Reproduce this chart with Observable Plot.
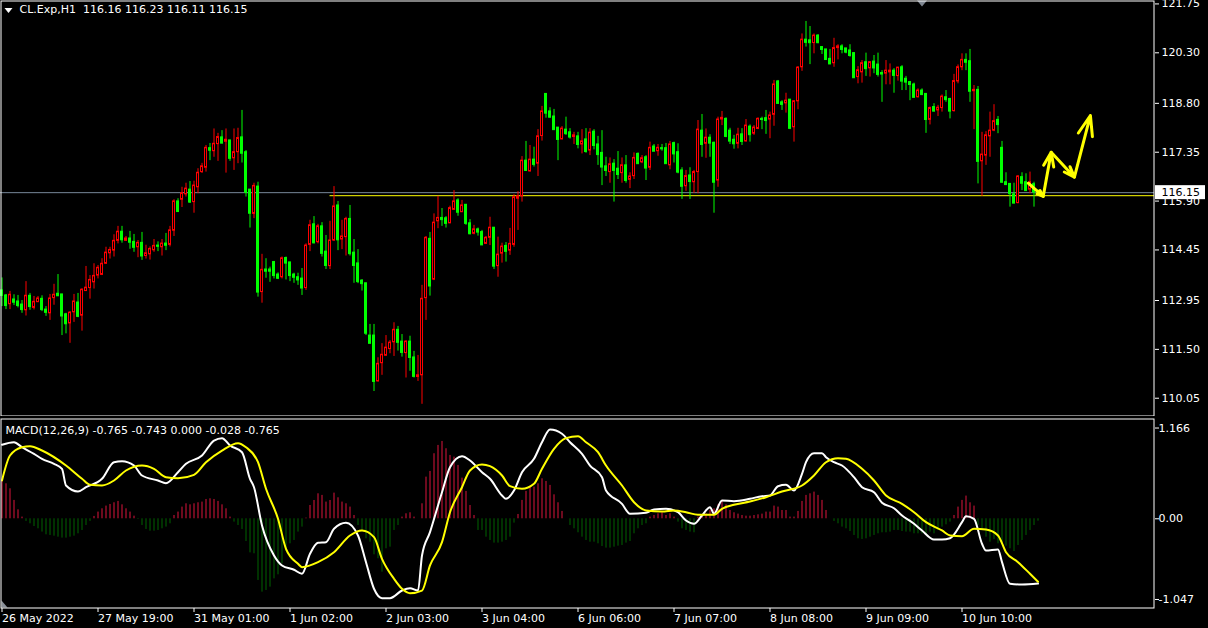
<!DOCTYPE html>
<html><head><meta charset="utf-8">
<script src="https://cdn.jsdelivr.net/npm/d3@7"></script>
<script src="https://cdn.jsdelivr.net/npm/@observablehq/plot@0.6"></script>
<style>
html,body{margin:0;padding:0;background:#000;}
#wrap{position:relative;width:1208px;height:628px;background:#000;overflow:hidden;}
#main{position:absolute;left:0;top:0;}
#macd{position:absolute;left:0;top:416px;}
svg{display:block;}
</style></head><body><div id="wrap"><div id="main"></div><div id="macd"></div></div>
<script>
// ---------------- data ----------------
const symbol = "CL.Exp", timeframe = "H1";
const opens = [113.25,113.10,112.84,112.98,112.92,112.83,112.66,113.09,112.73,112.90,113.00,112.68,112.57,113.02,113.15,113.13,112.54,112.27,112.60,112.89,112.50,113.23,113.32,113.49,113.69,113.71,114.04,114.35,114.43,114.72,114.99,114.72,114.79,114.69,114.53,114.66,114.27,114.32,114.44,114.58,114.53,114.64,114.60,115.02,115.89,115.94,116.10,116.24,115.87,116.31,116.76,116.89,117.47,117.38,117.59,117.79,117.66,117.70,117.17,117.35,117.79,117.35,116.24,115.52,116.33,113.20,113.87,113.87,114.09,113.72,113.64,114.21,114.08,113.72,113.64,113.60,113.32,114.60,115.21,114.68,115.15,114.40,113.97,114.73,115.77,114.76,114.83,115.37,114.37,114.05,113.54,113.46,111.91,111.91,110.55,111.09,111.31,111.51,111.71,112.08,111.73,111.39,111.73,111.26,110.68,110.73,113.02,114.78,113.57,115.30,115.40,115.39,115.24,115.64,115.92,115.57,115.79,115.24,114.93,115.06,114.98,114.63,114.81,115.11,113.97,114.34,114.57,114.43,114.60,115.97,116.04,117.10,116.78,117.13,117.01,117.83,119.08,118.56,118.41,118.08,117.73,118.02,117.94,117.80,117.82,117.58,117.73,117.40,117.96,117.58,117.33,116.93,116.76,117.01,116.86,116.73,116.96,116.53,116.64,117.30,117.05,117.20,116.89,117.52,117.38,117.47,117.47,116.96,117.62,117.35,116.81,116.34,116.66,116.46,116.76,117.99,117.60,117.78,117.63,116.51,118.32,118.34,117.99,117.72,117.60,117.88,117.67,118.11,117.90,118.04,118.34,118.36,118.32,118.46,119.45,118.83,118.80,118.91,118.09,118.86,119.87,120.69,120.67,120.59,120.81,120.47,120.40,120.12,119.99,120.44,120.49,120.43,120.37,120.29,119.58,119.72,120.02,119.84,120.04,119.95,119.70,119.68,119.72,119.77,119.61,119.87,119.53,119.43,119.36,118.98,119.18,119.08,118.31,118.69,118.59,118.66,118.98,118.93,118.57,119.45,119.87,120.09,120.05,119.16,119.20,117.08,117.25,117.82,117.99,118.31,117.48,116.46,116.41,116.10,115.84,116.61,116.46,116.24,116.40,116.16];
const highs = [113.62,113.13,113.22,113.12,113.10,112.95,113.51,113.16,113.07,113.07,113.09,112.77,113.13,113.43,113.72,113.13,112.57,112.62,113.13,113.16,113.30,113.96,113.69,114.04,113.99,114.19,114.53,114.53,114.90,115.15,115.15,114.85,115.00,114.91,114.73,114.97,114.59,114.54,114.76,114.69,114.76,114.94,115.15,115.94,115.97,116.31,116.43,116.48,116.49,116.86,117.02,117.55,117.61,118.04,117.91,117.99,118.04,117.70,118.04,118.06,118.59,117.40,116.24,116.43,116.46,114.32,114.19,113.94,114.11,113.77,114.24,114.24,114.08,113.76,113.76,113.90,114.63,115.33,115.44,115.21,115.26,114.88,115.30,116.33,115.89,115.33,115.42,115.77,114.76,114.46,113.57,113.46,112.24,112.24,111.25,111.67,111.91,111.76,112.29,112.18,111.94,111.76,111.89,111.44,111.32,113.40,114.85,114.97,115.52,116.04,115.68,115.44,115.75,116.21,115.97,115.92,115.80,115.35,115.18,115.10,115.03,114.85,115.42,115.11,114.83,114.65,114.67,115.09,116.09,116.18,117.22,117.67,117.55,117.50,118.02,118.71,119.08,118.67,118.62,118.08,118.11,118.39,118.05,117.94,117.94,118.02,118.05,118.05,118.02,117.82,117.99,117.20,117.18,117.13,117.37,117.18,117.25,116.74,117.33,117.33,117.25,117.25,117.65,117.58,117.58,117.58,117.61,117.67,117.65,117.60,116.89,116.81,116.89,116.81,118.29,118.47,118.04,117.87,117.65,118.39,118.56,118.37,118.06,117.85,118.06,118.05,118.32,118.16,118.14,118.37,118.39,118.59,118.54,119.48,119.48,118.88,119.10,118.91,118.88,119.89,120.86,121.23,121.08,120.86,120.84,120.47,120.40,120.40,120.73,120.54,120.54,120.43,120.54,120.30,119.89,120.07,120.29,120.03,120.22,120.29,119.77,120.07,119.97,119.83,119.87,119.92,119.60,119.45,119.40,119.23,119.23,119.08,118.69,118.79,118.74,119.05,119.18,118.95,119.66,119.94,120.27,120.27,120.40,119.33,119.30,117.94,117.96,118.54,118.76,118.41,117.67,116.74,116.42,116.43,116.66,116.74,116.71,116.76,116.46,116.23];
const lows = [112.77,112.68,112.68,112.80,112.73,112.57,112.49,112.66,112.67,112.89,112.62,112.48,112.36,112.81,113.07,111.91,111.96,111.68,112.30,112.44,112.04,113.22,112.99,113.29,113.59,113.69,114.02,114.18,114.24,114.63,114.65,114.71,114.47,114.38,114.22,114.14,114.18,114.15,114.38,114.40,114.27,114.43,114.54,114.85,115.56,115.71,116.02,115.83,115.54,116.12,116.72,116.76,117.10,117.20,117.08,117.60,116.73,117.08,116.81,117.01,117.03,116.02,115.10,115.38,113.05,112.87,113.61,113.49,113.59,113.57,113.59,113.56,113.51,113.46,113.40,113.10,113.25,114.40,114.63,114.63,114.24,113.87,113.87,114.70,114.43,114.46,114.27,114.27,113.46,113.45,113.23,111.91,111.68,110.25,110.53,110.73,111.31,111.37,111.29,111.45,111.27,110.65,110.85,110.65,110.55,109.87,112.36,113.08,113.54,115.08,115.15,115.10,115.23,115.62,115.45,115.56,115.18,114.90,114.90,114.86,114.58,114.61,114.58,113.87,113.64,114.06,114.09,114.29,114.53,115.03,115.87,116.78,116.76,116.91,116.63,117.68,118.36,118.36,118.02,117.10,117.72,117.85,117.74,117.58,117.45,117.30,117.32,117.25,117.42,116.96,116.36,116.63,116.43,115.87,116.54,116.43,116.43,116.27,116.54,116.99,117.01,116.51,116.81,117.38,117.23,117.38,117.01,116.83,117.03,116.71,115.95,116.19,115.95,116.13,116.12,117.20,117.17,117.20,115.54,116.31,118.14,117.78,117.58,117.44,117.45,117.55,117.65,117.65,117.85,118.02,118.02,117.88,117.75,118.12,118.77,118.59,118.51,118.02,117.65,118.61,119.75,120.47,119.95,120.27,120.57,120.25,120.10,119.95,119.87,120.09,120.27,120.27,120.17,119.55,119.38,119.40,119.60,119.58,119.68,119.58,118.83,119.35,119.35,119.10,119.46,119.18,119.18,118.88,118.96,118.96,119.03,117.91,118.16,118.54,118.41,118.54,118.83,118.34,118.54,119.38,119.77,119.77,118.83,118.02,116.41,116.04,116.96,117.20,117.96,117.90,116.43,116.36,115.72,115.82,115.82,116.21,116.19,116.12,115.72,116.11];
const closes = [113.10,112.80,113.12,112.90,112.80,112.68,113.09,112.77,112.91,113.01,112.68,112.60,113.01,113.12,113.09,112.49,112.26,112.59,112.92,112.48,113.27,113.33,113.56,113.68,113.92,114.04,114.37,114.45,114.72,114.99,114.75,114.79,114.68,114.53,114.66,114.27,114.35,114.48,114.57,114.56,114.64,114.59,115.03,115.89,115.59,116.13,116.27,115.87,116.36,116.74,116.93,117.48,117.41,117.60,117.80,117.62,117.72,117.17,117.35,117.77,117.32,116.16,115.54,116.35,113.20,113.86,113.82,113.82,113.69,113.61,114.20,114.06,113.69,113.64,113.56,113.32,114.58,115.18,114.66,115.15,114.35,113.99,114.73,115.74,114.75,114.85,115.37,114.34,113.99,113.51,113.45,111.98,111.68,110.55,111.07,111.34,111.55,111.70,112.08,111.71,111.41,111.73,111.26,110.70,110.73,113.00,114.81,113.38,115.26,115.40,115.35,115.24,115.69,115.89,115.57,115.77,115.24,114.93,115.06,114.98,114.60,114.81,115.11,113.97,114.31,114.55,114.41,114.63,116.01,116.04,117.10,116.81,117.13,116.99,117.82,118.56,118.51,118.39,118.02,117.73,118.05,117.90,117.80,117.85,117.58,117.67,117.37,117.93,117.55,117.28,116.91,116.81,116.99,116.81,116.69,116.96,116.51,116.63,117.18,117.01,117.17,116.88,117.48,117.38,117.48,117.45,117.01,117.58,117.30,116.76,116.34,116.64,116.48,116.76,118.02,117.58,117.78,117.62,116.46,118.32,118.37,117.82,117.68,117.60,117.87,117.67,118.14,117.87,118.08,118.34,118.32,118.29,118.44,119.36,118.80,118.77,118.88,118.06,118.86,119.86,120.69,120.61,120.60,120.81,120.60,120.40,120.10,119.97,120.44,120.49,120.40,120.32,120.22,119.56,119.78,119.99,119.83,120.02,119.85,119.66,119.67,119.77,119.77,119.63,119.86,119.46,119.43,119.36,118.98,119.18,119.06,118.32,118.66,118.57,118.67,119.00,118.91,118.57,119.46,119.87,120.09,120.02,119.16,119.20,117.08,117.28,117.85,117.99,118.27,118.17,116.46,116.39,116.12,115.84,116.63,116.43,116.21,116.46,116.17,116.15];

const priceTicks = [121.75, 120.30, 118.80, 117.35, 115.90, 114.45, 112.95, 111.50, 110.05];
const timeTickBars = [0, 24, 48, 72, 96, 120, 144, 168, 192, 216, 240];
const timeTickLabels = ["26 May 2022", "27 May 19:00", "31 May 01:00", "1 Jun 02:00", "2 Jun 03:00", "3 Jun 04:00", "6 Jun 06:00", "7 Jun 07:00", "8 Jun 08:00", "9 Jun 09:00", "10 Jun 10:00"];

const levelPrice = 116.06;      // horizontal yellow line
const levelStartBar = 82;
const shiftMarkerBar = 230;

// yellow zig-zag arrows (bar index, price)
const arrowBars = [256.55, 260.3, 262.3, 268.1, 272.1];
const arrowPrices = [116.43, 116.04, 117.35, 116.61, 118.44];

// MACD(12,26,9)
const macdTitle = "MACD(12,26,9) -0.765 -0.743 0.000 -0.028 -0.765";
const macdTickValues = [1.166, 0, -1.047];
const macdTickLabels = ["1.166", "0.00", "-1.047"];
const macdBars = [0,3,5,8,10,13,15,16,19,21,25,28,30,33,35,39,41,44,46,50,53,55,57,60,62,63,65,68,70,73,75,77,79,81,83,86,89,91,93,95,97,100,102,104,105,107,110,112,115,117,120,122,125,126,128,130,133,135,137,140,142,145,147,150,151,155,157,161,163,166,169,171,173,175,177,178,180,183,187,190,192,194,196,198,200,201,203,205,206,208,210,213,215,218,220,223,225,228,230,233,235,237,240,241,243,245,246,249,250,252,255,259];
const macdValues = [0.874,0.904,0.845,0.767,0.708,0.649,0.590,0.393,0.322,0.373,0.472,0.668,0.680,0.629,0.511,0.452,0.420,0.550,0.649,0.747,0.924,0.952,0.865,0.786,0.472,0.373,-0.079,-0.433,-0.551,-0.602,-0.649,-0.413,-0.283,-0.276,-0.118,-0.047,-0.197,-0.512,-0.826,-0.937,-0.937,-0.847,-0.820,-0.847,-0.433,-0.158,0.314,0.609,0.739,0.688,0.550,0.472,0.275,0.236,0.334,0.550,0.708,0.904,1.054,1.004,0.904,0.767,0.629,0.491,0.334,0.177,0.059,0.071,0.110,0.118,0.078,-0.020,-0.059,0.039,0.137,0.059,0.216,0.208,0.236,0.267,0.275,0.385,0.401,0.334,0.531,0.668,0.774,0.774,0.727,0.668,0.629,0.491,0.373,0.314,0.189,0.125,0.039,-0.059,-0.138,-0.244,-0.244,-0.229,-0.040,0.031,0,-0.295,-0.374,-0.362,-0.512,-0.767,-0.776,-0.765];
const signalBars = [0,2,5,7,10,16,20,22,25,28,31,35,38,41,44,48,51,55,59,61,64,66,69,71,74,75,79,83,87,90,93,95,98,100,102,105,107,110,112,115,117,120,122,125,127,130,133,135,138,141,144,146,149,151,155,158,161,165,168,171,174,178,180,183,187,191,195,200,203,206,209,211,215,218,221,225,228,231,235,237,240,243,246,249,251,254,257,259];
const signalValues = [0.452,0.747,0.845,0.857,0.806,0.629,0.472,0.402,0.393,0.452,0.570,0.629,0.590,0.491,0.479,0.519,0.668,0.806,0.893,0.845,0.668,0.354,0,-0.354,-0.531,-0.571,-0.512,-0.394,-0.197,-0.138,-0.217,-0.472,-0.708,-0.826,-0.878,-0.847,-0.551,-0.276,0.078,0.373,0.570,0.641,0.621,0.511,0.385,0.354,0.413,0.590,0.826,0.952,0.975,0.904,0.786,0.629,0.393,0.196,0.098,0.086,0.098,0.078,0.047,0.047,0.118,0.165,0.204,0.255,0.322,0.393,0.511,0.668,0.715,0.708,0.590,0.452,0.275,0.177,0.078,-0.040,-0.138,-0.197,-0.205,-0.118,-0.126,-0.197,-0.394,-0.512,-0.649,-0.743];
const histValues = [0.453,0.413,0.354,0.217,0.106,0.02,-0.031,-0.059,-0.091,-0.118,
-0.157,-0.189,-0.197,-0.205,-0.217,-0.228,-0.228,-0.217,-0.205,-0.177,
-0.138,-0.079,-0.031,0.028,0.079,0.118,0.150,0.169,0.189,0.205,
0.165,0.118,0.079,0.031,-0.008,-0.079,-0.126,-0.146,-0.146,-0.138,
-0.118,-0.098,-0.059,0.039,0.079,0.138,0.177,0.165,0.177,0.189,
0.197,0.228,0.236,0.228,0.205,0.165,0.118,0.020,-0.039,-0.079,
-0.126,-0.268,-0.402,-0.413,-0.728,-0.866,-0.846,-0.807,-0.709,-0.661,
-0.531,-0.386,-0.295,-0.256,-0.157,-0.098,0.008,0.157,0.216,0.295,
0.276,0.197,0.216,0.303,0.248,0.197,0.177,0.138,0.039,-0.079,
-0.138,-0.236,-0.276,-0.425,-0.472,-0.630,-0.354,-0.335,-0.138,-0.079,
0.02,0.059,0.071,0.02,0,0.177,0.492,0.559,0.768,0.866,
0.913,0.827,0.748,0.728,0.630,0.480,0.323,0.157,0.039,-0.138,
-0.138,-0.217,-0.256,-0.287,-0.287,-0.276,-0.256,-0.217,-0.051,0.051,
0.217,0.323,0.374,0.374,0.413,0.472,0.441,0.394,0.283,0.189,
0.087,0,-0.079,-0.118,-0.165,-0.217,-0.256,-0.276,-0.276,-0.295,
-0.327,-0.346,-0.346,-0.335,-0.323,-0.315,-0.287,-0.268,-0.177,-0.118,
-0.079,-0.059,0.020,0.039,0.059,0.071,0.039,0.059,0.020,-0.039,
-0.118,-0.138,-0.157,-0.165,0.020,0.039,0.059,0.098,0.118,0.165,
0.217,0.165,0.098,0.071,0.055,0.039,0.031,0.031,0.039,0.047,
0.055,0.079,0.079,0.150,0.138,0.098,0.098,0.020,0.020,0.087,
0.205,0.276,0.295,0.315,0.276,0.217,0.098,0.0,-0.031,-0.059,
-0.098,-0.118,-0.150,-0.197,-0.236,-0.244,-0.236,-0.217,-0.197,-0.177,
-0.165,-0.165,-0.157,-0.138,-0.138,-0.150,-0.157,-0.157,-0.177,-0.177,
-0.177,-0.189,-0.157,-0.177,-0.138,-0.098,-0.071,-0.039,0.039,0.138,
0.217,0.268,0.189,0.150,-0.079,-0.138,-0.217,-0.276,-0.244,-0.295,
-0.276,-0.323,-0.354,-0.386,-0.315,-0.256,-0.197,-0.138,-0.079,-0.028];

// ---------------- styling ----------------
const BULL = "#ff0000", BEAR = "#00ff00", BID = "#778899", YEL = "#ffff00";
const HIST_UP = "#dc143c", HIST_DN = "#006400";
const FONT = "DejaVu Sans";
const W = 1208, MR = 54;
const xDomain = [-0.375, 288.125];           // 4 px per bar
const pxPerBar = (W - MR) / (xDomain[1] - xDomain[0]);

const candles = opens.map((o, i) => ({i, o, h: highs[i], l: lows[i], c: closes[i], up: closes[i] > o}));
const last = candles[candles.length - 1];
const fmt2 = v => v.toFixed(2);

const yMain = [109.508, 121.852];
const pxPerPrice = 416 / (yMain[1] - yMain[0]);

const arrows = arrowBars.slice(1).map((b, k) => ({x1: arrowBars[k], y1: arrowPrices[k], x2: b, y2: arrowPrices[k + 1]}));

const downTri = {draw(ctx, size) { const w = 5, h = 6; ctx.moveTo(-w, -h/2); ctx.lineTo(w, -h/2); ctx.lineTo(0, h/2); ctx.closePath(); }};
const titleTri = {draw(ctx, size) { const w = 4, h = 5; ctx.moveTo(-w, -h/2); ctx.lineTo(w, -h/2); ctx.lineTo(0, h/2); ctx.closePath(); }};
const cornerTri = {draw(ctx, size) { ctx.moveTo(0, -7); ctx.lineTo(6, 0); ctx.lineTo(0, 0); ctx.closePath(); }};

const axisText = {color: "#fff", fontSize: 11, fontFamily: FONT, label: null};

const mainChart = Plot.plot({
  width: W, height: 416, marginLeft: 0, marginRight: MR, marginTop: 0, marginBottom: 0,
  style: {background: "#000", color: "#fff", fontFamily: FONT, fontSize: "11px"},
  x: {domain: xDomain, axis: null},
  y: {domain: yMain, axis: null},
  marks: [
    Plot.ruleY([levelPrice], {y: d => d, x1: levelStartBar, x2: xDomain[1], stroke: YEL, strokeWidth: 1}),
    Plot.ruleY([last.c], {y: d => d, stroke: BID, strokeWidth: 1}),
    Plot.ruleX(candles, {x: "i", y1: "l", y2: "h", stroke: d => d.up ? BULL : BEAR, strokeWidth: 1}),
    Plot.rect(candles, {x1: d => d.i - 0.25, x2: d => d.i + 0.25, y1: "o", y2: "c",
      fill: d => d.up ? "#000" : BEAR, stroke: d => d.up ? BULL : BEAR, strokeWidth: 1}),
    Plot.ruleY(candles, {y: "c", x1: d => d.i - 0.375, x2: d => d.i + 0.375, stroke: d => d.up ? BULL : BEAR, strokeWidth: 1}),
    Plot.arrow(arrows, {x1: "x1", y1: "y1", x2: "x2", y2: "y2", stroke: YEL, strokeWidth: 3, headLength: 12, headAngle: 40}),
    Plot.dot([shiftMarkerBar], {x: d => d, frameAnchor: "top", dy: 3, symbol: downTri, r: 4, fill: "#7f8691", stroke: "none"}),
    Plot.frame({stroke: "#fff", inset: 0.5}),
    Plot.axisY({anchor: "right", ticks: priceTicks, tickFormat: fmt2, tickSize: 4, tickPadding: 3, ...axisText}),
    Plot.rect([last.c], {x1: xDomain[1] + 1 / pxPerBar, x2: xDomain[1] + 51 / pxPerBar,
      y1: d => d - 7 / pxPerPrice, y2: d => d + 7 / pxPerPrice, fill: "#fff", clip: false}),
    Plot.text([last.c], {y: d => d, text: fmt2, frameAnchor: "right", dx: 7, textAnchor: "start",
      fill: "#000", fontSize: 11, fontFamily: FONT}),
    Plot.dot(["t"], {frameAnchor: "top-left", dx: 8, dy: 10, symbol: titleTri, r: 4, fill: "#fff", stroke: "none"}),
    Plot.text([`${symbol},${timeframe}\u00a0\u00a0${fmt2(last.o)} ${fmt2(last.h)} ${fmt2(last.l)} ${fmt2(last.c)}`],
      {text: d => d, frameAnchor: "top-left", dx: 19, dy: 5, lineAnchor: "top", textAnchor: "start",
       fill: "#fff", fontSize: 11, fontFamily: FONT})
  ]
});
document.getElementById("main").appendChild(mainChart);

const hist = histValues.map((v, i) => ({i, v}));
const macdLine = macdBars.map((b, k) => ({i: b, v: macdValues[k]}));
const sigLine = signalBars.map((b, k) => ({i: b, v: signalValues[k]}));

const macdChart = Plot.plot({
  width: W, height: 212, marginLeft: 0, marginRight: MR, marginTop: 2, marginBottom: 20,
  style: {background: "#000", color: "#fff", fontFamily: FONT, fontSize: "11px"},
  x: {domain: xDomain, axis: null},
  y: {domain: [-1.059, 1.184], axis: null},
  marks: [
    Plot.ruleX(hist, {x: "i", y1: 0, y2: "v", stroke: d => d.v >= 0 ? HIST_UP : HIST_DN, strokeWidth: 1}),
    Plot.line(macdLine, {x: "i", y: "v", stroke: "#fff", strokeWidth: 2, curve: "monotone-x"}),
    Plot.line(sigLine, {x: "i", y: "v", stroke: YEL, strokeWidth: 2, curve: "monotone-x"}),
    Plot.dot(["c"], {frameAnchor: "bottom-left", dx: 1, dy: -1, symbol: cornerTri, r: 4, fill: "#8a9099", stroke: "none"}),
    Plot.frame({stroke: "#fff", inset: 0.5}),
    Plot.axisX({ticks: timeTickBars, tickFormat: d => timeTickLabels[timeTickBars.indexOf(d)],
      tickSize: 4, tickPadding: 2, textAnchor: "start", ...axisText}),
    Plot.axisY({anchor: "right", ticks: [macdTickValues[0]], tickFormat: () => macdTickLabels[0], tickSize: 4, tickPadding: 0, dy: 8, ...axisText}),
    Plot.axisY({anchor: "right", ticks: [macdTickValues[1]], tickFormat: () => macdTickLabels[1], tickSize: 4, tickPadding: 0, ...axisText}),
    Plot.axisY({anchor: "right", ticks: [macdTickValues[2]], tickFormat: () => macdTickLabels[2], tickSize: 4, tickPadding: 0, dy: -8, ...axisText}),
    Plot.text([macdTitle], {text: d => d, frameAnchor: "top-left", dx: 5, dy: 8, lineAnchor: "top", textAnchor: "start",
      fill: "#fff", fontSize: 11, fontFamily: FONT})
  ]
});
document.getElementById("macd").appendChild(macdChart);
</script></body></html>
